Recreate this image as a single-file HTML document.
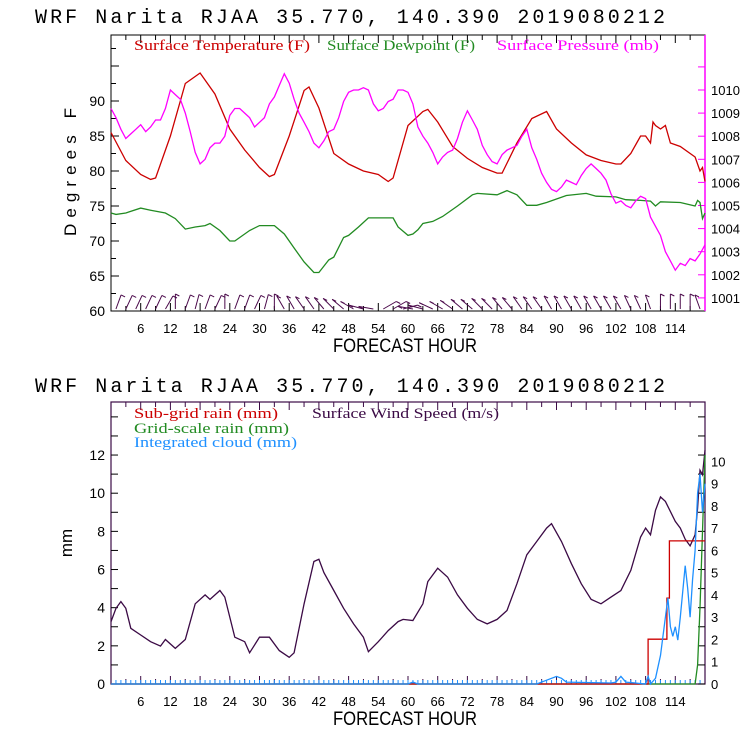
<!DOCTYPE html>
<html><head><meta charset="utf-8"><style>
html,body{margin:0;padding:0;background:#fff;}
svg{display:block;}
</style></head><body>
<svg id="chart" width="740" height="740" xmlns="http://www.w3.org/2000/svg" font-family="Liberation Sans, sans-serif"></svg>
<script>
// ---- Top panel data ----
const tempHours=[0,3,6,8,9,12,15,18,21,24,27,30,32,33,36,39,40,42,45,48,51,54,56,57,60,63,64,66,69,72,75,78,79,82,85,88,90,93,96,99,102,103,105,107,108,109,109.5,110,111,112,113,115,118,119,119.5,120];
const tempValues=[85.5,81.5,79.5,78.8,79,85,92.5,94,91,86,83,80.5,79.2,79.5,85,91.5,92,89,82.5,81,80,79.5,78.5,79,86.5,88.5,88.8,87,83.5,81.8,80.5,79.7,79.7,84,87.5,88.5,86,84,82.3,81.5,81,81,82.5,85,85,84,87,86.5,86,86.5,84,83.5,82,80,80.5,78.5];
const dewHours=[0,1,3,6,8,11,13,15,17,19,20,22,24,25,28,30,33,35,37,39,41,42,44,45,47,48,50,52,54,57,58,60,61,62,63,65,67,70,73,74,78,80,82,84,86,88,90,92,96,98,102,104,107,109,110,111,115,118,118.5,119,119.5,120];
const dewValues=[74,73.8,74,74.7,74.4,74,73.2,71.7,72,72.2,72.5,71.5,70,70,71.5,72.2,72.2,71,69,67,65.5,65.5,67.3,67.7,70.5,70.8,72,73.3,73.3,73.3,72,70.8,71,71.6,72.5,72.8,73.5,75,76.6,76.8,76.6,77.2,76.6,75.1,75.1,75.5,76,76.5,76.8,76.4,76.3,75.9,75.8,75.7,75,75.6,75.5,75,75.8,75.5,73.2,74];
const presValues=[1009.2,1008.8,1008.3,1007.9,1008.1,1008.3,1008.5,1008.2,1008.4,1008.7,1008.7,1009.2,1010,1009.8,1009.6,1009.0,1008.2,1007.3,1006.8,1007.0,1007.5,1007.7,1007.7,1008.0,1008.9,1009.2,1009.2,1009.0,1008.8,1008.4,1008.6,1008.8,1009.4,1009.7,1010.2,1010.7,1010.3,1009.6,1009.0,1008.6,1008.2,1007.7,1007.5,1007.8,1008.2,1008.3,1008.8,1009.5,1009.9,1010,1010.0,1010.1,1010.0,1009.4,1009.1,1009.2,1009.5,1009.6,1010.0,1010.0,1009.9,1009.4,1008.4,1008.0,1007.7,1007.3,1006.8,1007.1,1007.3,1007.4,1007.9,1008.6,1009.1,1008.7,1008.3,1007.6,1007.2,1006.9,1006.8,1007.2,1007.4,1007.5,1007.6,1008.0,1008.3,1007.5,1007.0,1006.4,1006.0,1005.7,1005.6,1005.8,1006.1,1006.0,1005.9,1006.3,1006.6,1006.8,1006.6,1006.4,1006.1,1005.5,1005.1,1005.2,1005.0,1004.9,1005.2,1005.4,1005.3,1004.5,1004.1,1003.7,1003.0,1002.6,1002.2,1002.5,1002.4,1002.7,1002.6,1002.9,1003.3];
const xTickLabels=[6,12,18,24,30,36,42,48,54,60,66,72,78,84,90,96,102,108,114];
const tempTickLabels=[60,65,70,75,80,85,90];
const presTickLabels=[1001,1002,1003,1004,1005,1006,1007,1008,1009,1010];
// barb shaft tilt in degrees from vertical (positive = leaning right)
const barbTilt=[20,25,25,25,25,30,0,20,15,20,25,0,20,20,25,15,0,-30,-30,-35,-35,-40,-45,-50,-60,-75,-80,60,60,75,-80,-75,-65,-60,-55,-50,-50,-45,-45,-40,-40,-35,-35,-35,-30,-30,-30,-30,-30,-30,-30,-30,-25,-25,-20,0,0,0,0,-20];
// ---- Bottom panel data ----
const windHours=[0,1,2,3,4,6,8,10,11,13,15,17,19,20,22,23,25,27,28,30,32,34,36,37,39,41,42,43,45,47,49,51,52,54,56,58,59,61,63,64,66,68,70,72,74,76,78,80,82,84,86,88,89,91,93,95,97,99,101,103,105,107,108,109,110,111,112,114,115,116,117,118,118.5,119,119.5,120];
const windValues=[2.8,3.4,3.7,3.4,2.5,2.2,1.9,1.7,2.0,1.6,2.0,3.6,4.0,3.8,4.2,3.9,2.1,1.9,1.4,2.1,2.1,1.5,1.2,1.4,3.6,5.5,5.6,5.0,4.2,3.4,2.7,2.1,1.45,1.9,2.4,2.8,2.9,2.85,3.6,4.6,5.2,4.8,4.0,3.4,2.9,2.7,2.9,3.3,4.5,5.8,6.4,7.0,7.2,6.4,5.4,4.5,3.8,3.6,3.9,4.2,5.1,6.6,7.0,6.7,7.8,8.4,8.2,7.3,7.0,6.5,6.2,6.7,7.9,9.6,9.4,10.5];
const subHours=[0,108.5,108.5,112.3,112.3,112.8,112.8,120];
const subValues=[0,0,2.35,2.35,4.5,4.5,7.5,7.5];
const gridHours=[0,118,118.5,119,119.5,120];
const gridValues=[0,0,1,4,8,12];
const cloudHours=[0,60,61,62,86,88,90,91,92,101,102,103,104,108,108.5,109,110,111,112,112.5,113,113.5,114,114.5,115,116,116.5,117,117.5,118,118.5,119,119.5,120];
const cloudValues=[0,0,0.1,0,0,0.2,0.4,0.3,0.1,0.05,0.1,0.4,0.1,0,0.4,0,0.3,1.5,3.5,4.5,3.0,2.5,3.0,2.3,3.5,6.2,5.0,3.5,5.5,7.0,10,11,9,10.5];
const mmTickLabels=[0,2,4,6,8,10,12];
const windTickLabels=[0,1,2,3,4,5,6,7,8,9,10];

const NS='http://www.w3.org/2000/svg';
const svg=document.getElementById('chart');
function el(tag,attrs,parent){const e=document.createElementNS(NS,tag);for(const k in attrs)e.setAttribute(k,attrs[k]);(parent||svg).appendChild(e);return e;}
const X0=111,X1=705;
const xs=h=>X0+(X1-X0)*h/120;
const yT=v=>311-(v-60)*7;
const yP=v=>90+(1010-v)*23.1;
const yMM=v=>684-v*19.08;
const yW=v=>684-v*22.27;

function poly(hours,vals,sx,sy,color,name){
  let d='';hours.forEach((h,i)=>{d+=(i?'L':'M')+sx(h).toFixed(1)+' '+sy(vals[i]).toFixed(1);});
  const p=el('path',{d:d,fill:'none',stroke:color,'stroke-width':1.3});
  
  
}
function txt(x,y,s,attrs,name){const t=el('text',Object.assign({x:x,y:y},attrs));t.textContent=s;
  
  return t;}

function titleText(y,name){txt(35,y,'WRF  Narita RJAA   35.770, 140.390  2019080212',{'font-size':20,'font-family':'Liberation Mono, monospace',textLength:630,lengthAdjust:'spacing',fill:'#000'},name);}
titleText(23,'top-title');
titleText(392,'bottom-title');

function xaxis(top,bot,tickColor){
  for(let h=3;h<120;h+=3){const x=xs(h);const len=(h%6===0)?8:5;
    el('line',{x1:x,y1:bot,x2:x,y2:bot-len,stroke:tickColor,'stroke-width':1});
    el('line',{x1:x,y1:top,x2:x,y2:top+len,stroke:tickColor,'stroke-width':1});}
  xTickLabels.forEach(h=>{txt(xs(h),bot+22,String(h),{'font-size':13,'text-anchor':'middle',fill:'#000'},'x-tick-label');});
  txt(333,bot+41,'FORECAST HOUR',{'font-size':19,textLength:144,lengthAdjust:'spacingAndGlyphs',fill:'#000'},'x-axis-title');
}
function legend(x,y,s,w,color,name){txt(x,y,s,{'font-size':15,'font-family':'Liberation Serif, serif',textLength:w,lengthAdjust:'spacingAndGlyphs',fill:color},name);}
// ---- top panel ----
const topG=el('rect',{x:X0,y:35,width:X1-X0,height:276,fill:'none',stroke:'#000','stroke-width':1});

el('line',{x1:X1,y1:35,x2:X1,y2:311,stroke:'#ff00ff','stroke-width':1.5});
xaxis(35,311,'#000');
for(let v=60;v<=99;v+=2.5){const y=yT(v);const len=(v%5===0)?8:5;el('line',{x1:X0,y1:y,x2:X0+len,y2:y,stroke:'#000'});}
tempTickLabels.forEach(v=>txt(105,yT(v)+5,String(v),{'font-size':14,'text-anchor':'end',fill:'#000'},'y-tick-label'));
for(let v=1001;v<=1011;v++){const y=yP(v);el('line',{x1:X1,y1:y,x2:X1-7,y2:y,stroke:'#ff00ff'});}
presTickLabels.forEach(v=>txt(711,yP(v)+5,String(v),{'font-size':13,fill:'#000'},'right-tick-label'));
txt(76,172,'Degrees F',{'font-size':17,'text-anchor':'middle',transform:'rotate(-90 76 172)',fill:'#000',textLength:128,lengthAdjust:'spacing'},'y-axis-title');
legend(134,50,'Surface Temperature (F)',176,'#cc0000','legend-temperature');
legend(327,50,'Surface Dewpoint (F)',148,'#228b22','legend-dewpoint');
legend(497,50,'Surface Pressure (mb)',162,'#ff00ff','legend-pressure');
poly(tempHours,tempValues,xs,yT,'#cc0000','temperature-line');
poly(dewHours,dewValues,xs,yT,'#228b22','dewpoint-line');
poly(presValues.map((v,i)=>i),presValues,xs,yP,'#ff00ff','pressure-line');
// wind barbs
barbTilt.forEach((t,i)=>{
  const h=1+i*2;const x=xs(h);const base=309;const L=15;const a=t*Math.PI/180;
  const x2=x+Math.sin(a)*L;const y2=base-Math.cos(a)*L;
  const g=el('g',{});
  
  
  el('line',{x1:x,y1:base,x2:x2,y2:y2,stroke:'#4b0a4b','stroke-width':1},g);
  el('line',{x1:x2,y1:y2,x2:x2+4,y2:y2+2,stroke:'#4b0a4b','stroke-width':1},g);
});
// ---- bottom panel ----
const botF=el('rect',{x:X0,y:402,width:X1-X0,height:282,fill:'none',stroke:'#3b0a45','stroke-width':1.2});

xaxis(402,684,'#3b0a45');
for(let h=1;h<120;h++){el('line',{x1:xs(h),y1:684,x2:xs(h),y2:680,stroke:'#1e90ff'});}
for(let v=0;v<=14;v++){const y=yMM(v);if(y<402)continue;el('line',{x1:X0,y1:y,x2:X0+7,y2:y,stroke:'#000'});el('line',{x1:X1,y1:y,x2:X1-7,y2:y,stroke:'#000'});}
mmTickLabels.forEach(v=>txt(105,yMM(v)+5,String(v),{'font-size':14,'text-anchor':'end',fill:'#000'},'y-tick-label'));
windTickLabels.forEach(v=>txt(711,yW(v)+5,String(v),{'font-size':13,fill:'#000'},'right-tick-label'));
txt(72,543,'mm',{'font-size':17,'text-anchor':'middle',transform:'rotate(-90 72 543)',fill:'#000'},'y-axis-title');
legend(134,418,'Sub-grid rain (mm)',144,'#cc0000','legend-subgrid-rain');
legend(312,418,'Surface Wind Speed (m/s)',187,'#3b0a45','legend-wind-speed');
legend(134,433,'Grid-scale rain (mm)',155,'#228b22','legend-grid-rain');
legend(134,447,'Integrated cloud (mm)',163,'#1e90ff','legend-cloud');
poly(windHours,windValues,xs,yW,'#3b0a45','wind-speed-line');
poly(gridHours,gridValues,xs,yMM,'#228b22','grid-rain-line');
poly(subHours,subValues,xs,yMM,'#cc0000','subgrid-rain-line');
poly(cloudHours,cloudValues,xs,yMM,'#1e90ff','cloud-line');
</script>
</body></html>
